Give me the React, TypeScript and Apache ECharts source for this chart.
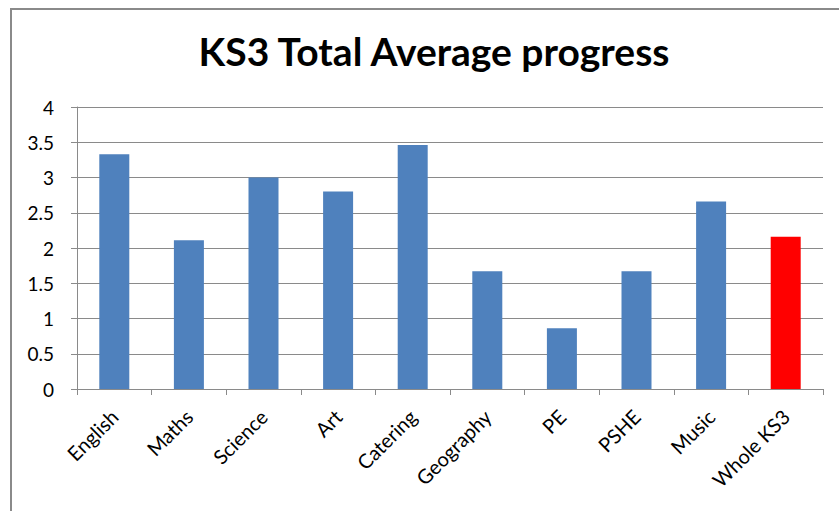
import React, { useEffect, useRef } from "react";
import * as echarts from "echarts";

const categories = ["English", "Maths", "Science", "Art", "Catering", "Geography", "PE", "PSHE", "Music", "Whole KS3"];
const values = [3.33, 2.11, 3.0, 2.8, 3.46, 1.67, 0.86, 1.67, 2.66, 2.16];
const highlightIndex = 9;
const yTicks = { min: 0, max: 4, interval: 0.5 };

export default function App() {
  const ref = useRef<HTMLDivElement>(null);
  useEffect(() => {
    const chart = echarts.init(ref.current!, null, { renderer: "svg" });
    const font = "Lato, 'Open Sans', sans-serif";
    chart.setOption({
      animation: false,
      backgroundColor: "#ffffff",
      title: {
        text: "KS3 Total Average progress",
        left: 429,
        textAlign: "center",
        top: 26,
        textStyle: { fontFamily: font, fontWeight: "bold", fontSize: 39, color: "#000" },
      },
      graphic: [
        {
          type: "polyline",
          shape: { points: [[11, 520], [11, 9], [845, 9]] },
          style: { stroke: "#8a8a8a", lineWidth: 2, fill: "none" },
        },
      ],
      grid: { left: 77, right: 16, top: 107, bottom: 122, containLabel: false },
      xAxis: {
        type: "category",
        data: categories,
        boundaryGap: true,
        axisLine: { lineStyle: { color: "#8a8a8a", width: 1 } },
        axisTick: { show: true, length: 6, alignWithLabel: false, lineStyle: { color: "#8a8a8a" } },
        axisLabel: { rotate: 45, margin: 24, fontFamily: font, fontSize: 20, color: "#000", interval: 0 },
      },
      yAxis: {
        type: "value",
        min: yTicks.min,
        max: yTicks.max,
        interval: yTicks.interval,
        axisLine: { show: true, lineStyle: { color: "#8a8a8a", width: 1 } },
        axisTick: { show: true, length: 6, lineStyle: { color: "#8a8a8a" } },
        splitLine: { show: true, lineStyle: { color: "#8a8a8a", width: 1 } },
        axisLabel: { margin: 23, fontFamily: font, fontSize: 19, color: "#000" },
      },
      series: [
        {
          type: "bar",
          barWidth: 30,
          data: values.map((v, i) => ({
            value: v,
            itemStyle: { color: i === highlightIndex ? "#ff0000" : "#4f81bd" },
          })),
        },
      ],
    });
    return () => chart.dispose();
  }, []);
  return (
    <div
      ref={ref}
      style={{ position: "absolute", left: 0, top: 0, width: 839, height: 511 }}
    />
  );
}
